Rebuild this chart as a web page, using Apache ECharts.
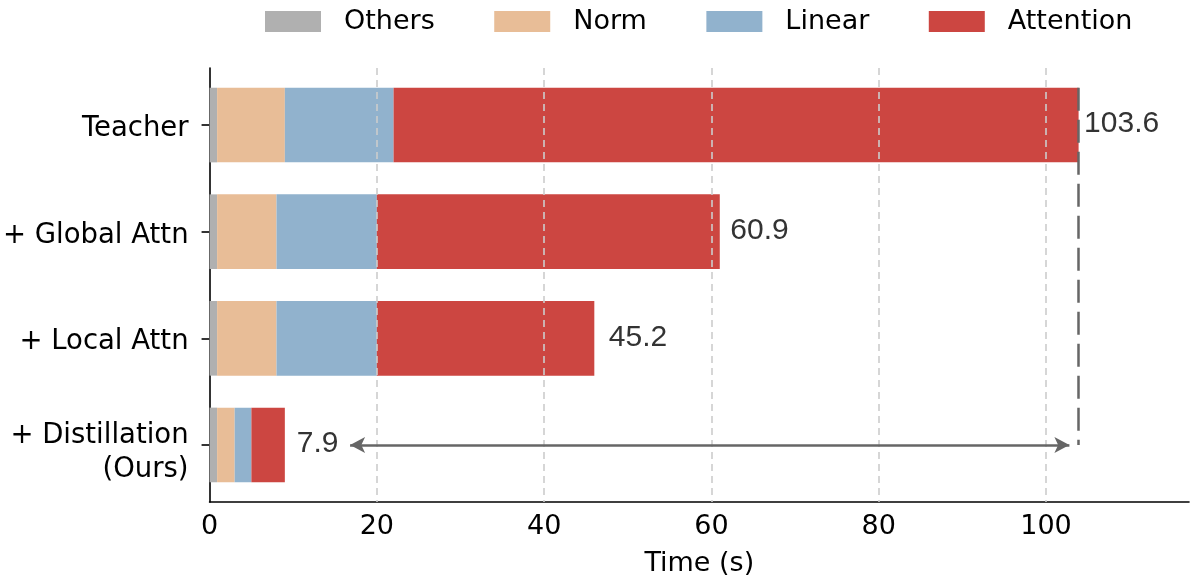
<!DOCTYPE html>
<html>
<head>
<meta charset="utf-8">
<script src="https://cdn.jsdelivr.net/npm/echarts@6/dist/echarts.min.js"></script>
<style>
  html, body { margin: 0; padding: 0; background: #fff; }
  #chart { width: 1195px; height: 587px; }
</style>
</head>
<body>
<div id="chart"></div>
<script>
// ---- data ----
const categories = ['Teacher', '+ Global Attn', '+ Local Attn', '+ Distillation\n(Ours)'];
const others    = [0.9, 0.9, 0.9, 0.9];
const norm      = [8.1, 7.1, 7.1, 2.1];
const linear    = [13.0, 12.0, 12.0, 2.0];
const attention = [81.9, 41.0, 26.0, 4.0];
const totalLabels = ['103.6', '60.9', '45.2', '7.9'];
const xTicks = [0, 20, 40, 60, 80, 100];
const gridTicks = [20, 40, 60, 80, 100];
const arrowSpan = [16.8, 102.8];   // speed-up arrow, from the 7.9 label to the teacher bar

const seriesNames = ['Others', 'Norm', 'Linear', 'Attention'];
const seriesValues = [others, norm, linear, attention];
const seriesColors = ['#b0b0b0', '#e8bd97', '#91b2cd', '#cc4641'];

const BAR_H = 0.7;
const FONT = 'DejaVu Sans';

// cumulative stacks
const cum = categories.map(() => 0);
const barSeries = seriesNames.map((name, k) => {
  const data = categories.map((c, i) => {
    const s = cum[i];
    const e = s + seriesValues[k][i];
    cum[i] = e;
    return [s, e, i];
  });
  return {
    name, type: 'custom', z: 2,
    itemStyle: { color: seriesColors[k] },
    encode: { x: [0, 1], y: 2 },
    data,
    renderItem(params, api) {
      const a = api.coord([api.value(0), api.value(2)]);
      const b = api.coord([api.value(1), api.value(2)]);
      const h = api.size([0, BAR_H])[1];
      return {
        type: 'rect',
        shape: { x: a[0], y: a[1] - h / 2, width: b[0] - a[0], height: h },
        style: { fill: api.visual('color') }
      };
    }
  };
});
const totals = cum.slice();
const teacherTotal = totals[0];
const labelDistances = [5.5, 10.5, 14.5, 12];

const option = {
  animation: false,
  backgroundColor: '#fff',
  legend: {
    data: seriesNames,
    top: 8, left: 265, padding: 0,
    icon: 'rect',
    itemWidth: 56, itemHeight: 21, itemGap: 59.5,
    textStyle: { fontFamily: FONT, fontSize: 27, color: '#000', padding: [0, 0, 0, 18] }
  },
  grid: { left: 209.5, right: 6, top: 68, bottom: 85 },
  xAxis: {
    type: 'value', min: 0, max: 117.1,
    name: 'Time (s)', nameLocation: 'middle', nameGap: 48,
    nameTextStyle: { fontFamily: FONT, fontSize: 27, color: '#000' },
    axisLine: { show: true, onZero: false, lineStyle: { color: '#000', width: 1.6 } },
    axisTick: { show: false },
    splitLine: { show: false },
    axisLabel: {
      customValues: xTicks, margin: 11,
      fontFamily: FONT, fontSize: 27, color: '#000'
    }
  },
  yAxis: {
    type: 'value', min: -0.535, max: 3.535, inverse: true,
    axisLine: { show: true, onZero: false, lineStyle: { color: '#000', width: 1.6 } },
    axisTick: { show: true, customValues: [0, 1, 2, 3], length: 8, lineStyle: { color: '#000', width: 1.6 } },
    splitLine: { show: false },
    axisLabel: {
      customValues: [0, 1, 2, 3], margin: 21,
      fontFamily: FONT, fontSize: 27.5, color: '#000', align: 'right',
      padding: [8, 0, 0, 0],
      formatter: v => {
        const lines = categories[Math.round(v)].split('\n');
        if (lines.length === 1) return lines[0];
        return '{e| }\n' + lines.map(l => '{t|' + l + '}').join('\n');
      },
      rich: {
        e: { fontSize: 2, lineHeight: 8 },
        t: { fontFamily: FONT, fontSize: 27.5, color: '#000', lineHeight: 33.5, align: 'right' }
      }
    }
  },
  series: [
    ...barSeries,
    {
      name: 'grid', type: 'scatter', data: [], z: 4, silent: true,
      markLine: {
        silent: true, symbol: ['none', 'none'], label: { show: false },
        lineStyle: { color: '#cccccc', width: 1.6, type: [7, 5] },
        data: gridTicks.map(v => ({ xAxis: v }))
      }
    },
    {
      name: 'annot', type: 'scatter', data: [], z: 5, silent: true,
      markLine: {
        silent: true, symbol: ['none', 'none'], label: { show: false },
        data: [
          [
            { coord: [teacherTotal, -BAR_H / 2], lineStyle: { color: '#666', width: 2.5, type: [23, 9] } },
            { coord: [teacherTotal, 3] }
          ],
          [
            { coord: [arrowSpan[0], 3], symbol: 'arrow', symbolSize: [12, 15], lineStyle: { color: '#666', width: 2.5, type: 'solid' } },
            { coord: [arrowSpan[1], 3], symbol: 'arrow', symbolSize: [12, 15] }
          ]
        ]
      }
    },
    {
      name: 'totals', type: 'scatter', z: 6, silent: true,
      symbolSize: 0,
      itemStyle: { opacity: 1 },
      data: totals.map((t, i) => ({
        value: [t, i],
        label: { distance: labelDistances[i] }
      })),
      label: {
        show: true, position: 'right', offset: [0, -1],
        fontFamily: 'Liberation Sans', fontSize: 30, color: '#333',
        formatter: p => totalLabels[p.dataIndex]
      }
    }
  ]
};

const chart = echarts.init(document.getElementById('chart'), null, { renderer: 'canvas' });
chart.setOption(option);
</script>
</body>
</html>
